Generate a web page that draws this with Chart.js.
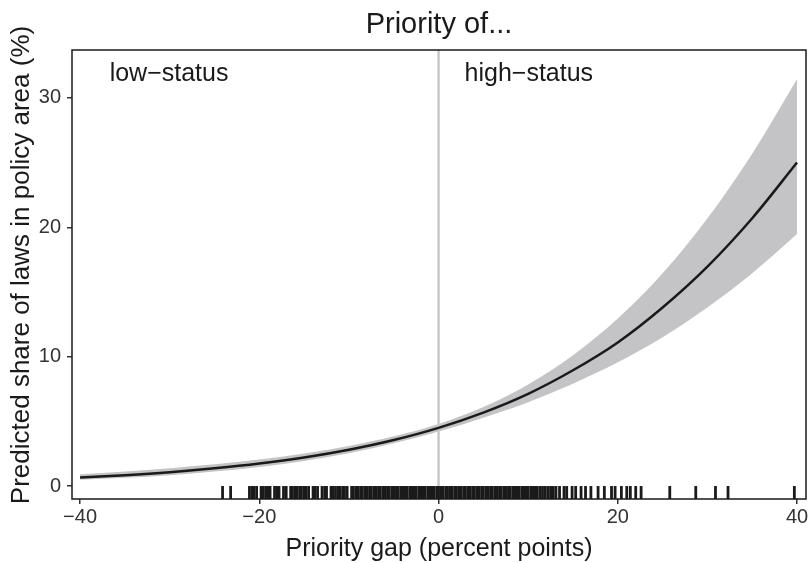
<!DOCTYPE html>
<html>
<head>
<meta charset="utf-8">
<script src="https://cdn.jsdelivr.net/npm/chart.js@4.4.0/dist/chart.umd.min.js"></script>
<style>
  body { margin: 0; background: #fff; }
  #wrap { width: 811px; height: 563px; }
</style>
</head>
<body>
<div id="wrap"><canvas id="grafica" width="811" height="563"></canvas></div>
<script>
// valores
let gap = [-40, -35, -30, -25, -20, -15, -10, -5, 0, 5, 10, 15, 20, 25, 30, 35, 40]
let fit = [0.66, 0.84, 1.07, 1.37, 1.74, 2.21, 2.81, 3.56, 4.5, 5.68, 7.13, 8.95, 11.1, 13.8, 16.96, 20.7, 25.0]
let upper = [0.91, 1.12, 1.37, 1.68, 2.06, 2.52, 3.10, 3.84, 4.80, 6.11, 7.85, 10.11, 12.94, 16.44, 20.69, 25.69, 31.45]
let lower = [0.48, 0.64, 0.84, 1.12, 1.47, 1.94, 2.54, 3.30, 4.21, 5.28, 6.48, 7.91, 9.56, 11.50, 13.80, 16.44, 19.48]

// posiciones del rug (observaciones)
let rug = [-24.1, -23.2,
  -21.1, -20.8, -20.6, -20.3, -19.8, -19.6, -19.3, -19.0, -18.8, -18.3, -18.0, -17.8, -17.3, -17.0, -16.5,
  -16.3, -16.0, -15.8, -15.5, -15.3, -15.0, -14.8, -14.5, -14.0, -13.8, -13.5, -13.0, -12.7, -12.5,
  -12.0, -11.8, -11.5, -11.2, -11.0, -10.7, -10.5, -10.2, -9.7, -9.5, -9.2, -9.0, -8.7, -8.5, -8.2,
  -8.0, -7.7, -7.5, -7.2, -7.0, -6.7, -6.5, -6.2, -6.0, -5.7, -5.5, -5.2, -5.0, -4.7, -4.5, -4.2,
  -4.0, -3.7, -3.5, -3.2, -3.0, -2.7, -2.5, -2.2, -2.0, -1.7, -1.5, -1.2, -1.0, -0.7, -0.5, -0.2,
  0.0, 0.3, 0.5, 0.8, 1.0, 1.3, 1.5, 1.8, 2.0, 2.3, 2.5, 2.8, 3.0, 3.3, 3.5, 3.8, 4.0, 4.3, 4.5,
  4.8, 5.0, 5.3, 5.5, 5.8, 6.0, 6.3, 6.5, 6.8, 7.0, 7.3, 7.5, 7.8, 8.0, 8.3, 8.5, 8.8, 9.0, 9.3,
  9.5, 9.8, 10.0, 10.3, 10.5, 10.8, 11.0, 11.3, 11.6, 11.9, 12.2, 12.5, 12.8, 13.1,
  13.5, 14.0, 14.3, 14.9, 15.3, 15.9, 16.4, 17.0, 17.8, 18.5, 19.3, 19.7, 20.4, 21.0, 21.4, 22.0, 22.6,
  25.8, 28.7, 30.9, 32.3, 39.7]
let rugY = -0.5

let xTicks = [-40, -20, 0, 20, 40]
let yTicks = [0, 10, 20, 30]
let titulo = 'Priority of...'
let tituloX = 'Priority gap (percent points)'
let tituloY = 'Predicted share of laws in policy area (%)'
let etiquetas = [{ x: -36.7, y: 31.8, text: 'low\u2212status' }, { x: 2.9, y: 31.8, text: 'high\u2212status' }]

const fuente = '"Liberation Sans", Arial, sans-serif'
const xy = (xs, ys) => xs.map((v, i) => ({ x: v, y: ys[i] }))

const textos = {
    id: 'textos',
    afterDatasetsDraw(chart) {
        const ctx = chart.ctx
        const a = chart.chartArea
        const sx = chart.scales.x
        const sy = chart.scales.y
        ctx.save()
        ctx.fillStyle = '#1a1a1a'
        ctx.font = '25px ' + fuente
        ctx.textBaseline = 'middle'
        ctx.textAlign = 'left'
        etiquetas.forEach(e => ctx.fillText(e.text, sx.getPixelForValue(e.x), sy.getPixelForValue(e.y)))
        ctx.strokeStyle = '#1a1a1a'
        ctx.lineWidth = 1.5
        ctx.strokeRect(a.left, a.top, a.right - a.left, a.bottom - a.top)
        ctx.textAlign = 'center'
        ctx.font = '29px ' + fuente
        ctx.fillText(titulo, (a.left + a.right) / 2, 25)
        ctx.font = '25px ' + fuente
        ctx.fillText(tituloX, (a.left + a.right) / 2, 549)
        ctx.font = '26px ' + fuente
        ctx.translate(22, 265)
        ctx.rotate(-Math.PI / 2)
        ctx.fillText(tituloY, 0, 0)
        ctx.restore()
    }
}

const sinPadding = s => { s.paddingLeft = 0; s.paddingRight = 0; s.paddingTop = 0; s.paddingBottom = 0 }

const config = {
    type: 'line',
    data: {
        datasets: [
            { data: xy(gap, upper), borderWidth: 0, pointRadius: 0, backgroundColor: '#c4c4c6', fill: '+1', cubicInterpolationMode: 'monotone', order: 5 },
            { data: xy(gap, lower), borderWidth: 0, pointRadius: 0, backgroundColor: '#c4c4c6', fill: false, cubicInterpolationMode: 'monotone', order: 4 },
            { data: [{ x: 0, y: -1 }, { x: 0, y: 34 }], borderColor: '#c8c8c8', borderWidth: 2.5, pointRadius: 0, fill: false, order: 3 },
            { type: 'scatter', data: rug.map(v => ({ x: v, y: rugY })), pointStyle: 'line', rotation: 90, pointRadius: 6.5, borderWidth: 2.8, borderColor: '#1a1a1a', order: 2 },
            { data: xy(gap, fit), borderColor: '#1a1a1a', borderWidth: 2.5, pointRadius: 0, fill: false, cubicInterpolationMode: 'monotone', order: 1 }
        ]
    },
    options: {
        responsive: false,
        animation: false,
        layout: { autoPadding: false, padding: { top: 50, right: 5, left: 0, bottom: 0 } },
        plugins: { legend: { display: false }, tooltip: { enabled: false } },
        scales: {
            x: {
                type: 'linear', min: -40.9, max: 41.0,
                afterBuildTicks: s => { s.ticks = xTicks.map(v => ({ value: v })) },
                afterFit: s => { s.height = 64; sinPadding(s) },
                grid: { drawOnChartArea: false, tickLength: 5, color: '#333', lineWidth: 1.5 },
                border: { display: false },
                ticks: { color: '#333', font: { size: 20, family: fuente }, padding: 1, maxRotation: 0,
                    callback: v => String(v).replace('-', '\u2212') }
            },
            y: {
                type: 'linear', min: -1.0, max: 33.7,
                afterBuildTicks: s => { s.ticks = yTicks.map(v => ({ value: v })) },
                afterFit: s => { s.width = 72; sinPadding(s) },
                grid: { drawOnChartArea: false, tickLength: 5, color: '#333', lineWidth: 1.5 },
                border: { display: false },
                ticks: { color: '#333', font: { size: 20, family: fuente }, padding: 6 }
            }
        }
    },
    plugins: [textos]
}

const canvas = document.getElementById('grafica')
const chart = new Chart(canvas.getContext('2d'), config)
</script>
</body>
</html>
